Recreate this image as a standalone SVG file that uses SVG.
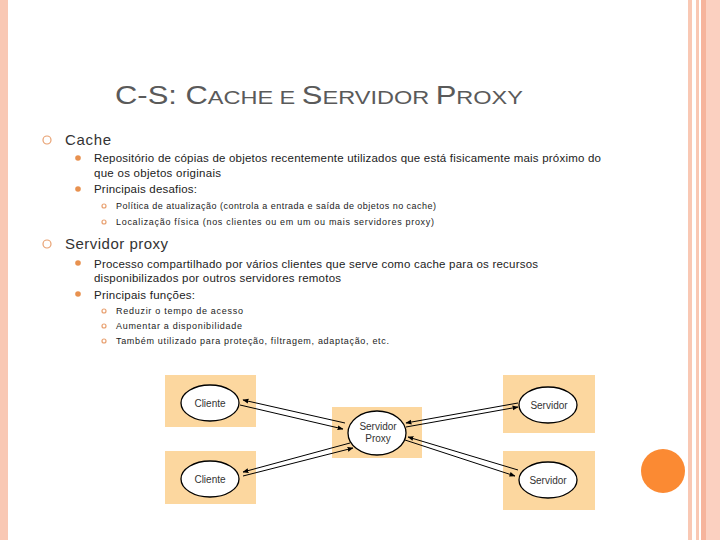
<svg xmlns="http://www.w3.org/2000/svg" width="720" height="540" viewBox="0 0 720 540">
<defs>
<marker id="ah" viewBox="0 0 10 10" refX="9" refY="5" markerWidth="6" markerHeight="6" orient="auto"><path d="M0,1 L10,5 L0,9 z" fill="#000"/></marker>
<style>
text{font-family:"Liberation Sans",Arial,sans-serif;fill:#222}
.t{fill:#5a5a5a}
.l1{font-size:15px;fill:#333}
.l2{font-size:11.5px}
.l3{font-size:9px}
.box{fill:#fcd79f}
.el{fill:#fff;stroke:#000;stroke-width:1.3}
.nl{font-size:10px;text-anchor:middle;fill:#333}
.c{stroke:#000;stroke-width:1;fill:none;marker-end:url(#ah)}
.ob{fill:none;stroke:#e8a070;stroke-width:1.2}
.db{fill:#e8914f}
</style>
</defs>
<rect width="720" height="540" fill="#fff"/>
<rect x="0" y="0" width="8" height="540" fill="#f9c8b4"/>
<rect x="688" y="0" width="4" height="540" fill="#f9c8b4"/>
<rect x="696" y="0" width="3" height="540" fill="#f9c8b4"/>
<rect x="701" y="0" width="5" height="540" fill="#f6b49c"/>
<rect x="706" y="0" width="14" height="540" fill="#fbd0c0"/>
<circle cx="663" cy="471" r="22" fill="#fb8a33"/>
<text x="115" y="104" class="t" textLength="408" lengthAdjust="spacingAndGlyphs"><tspan font-size="25">C-S: C</tspan><tspan font-size="19">ACHE E </tspan><tspan font-size="25">S</tspan><tspan font-size="19">ERVIDOR </tspan><tspan font-size="25">P</tspan><tspan font-size="19">ROXY</tspan></text>
<circle cx="47" cy="140" r="4" class="ob"/>
<text x="65" y="145" class="l1" textLength="46">Cache</text>
<circle cx="78" cy="158" r="2.8" class="db"/>
<text x="94" y="162" class="l2" textLength="507">Repositório de cópias de objetos recentemente utilizados que está fisicamente mais próximo do</text>
<text x="94" y="177" class="l2" textLength="127">que os objetos originais</text>
<circle cx="78" cy="189" r="2.8" class="db"/>
<text x="94" y="193" class="l2" textLength="103">Principais desafios:</text>
<circle cx="104" cy="206" r="2" class="ob"/>
<text x="116" y="209" class="l3" textLength="320">Política de atualização (controla a entrada e saída de objetos no cache)</text>
<circle cx="104" cy="222" r="2" class="ob"/>
<text x="116" y="225" class="l3" textLength="318">Localização física (nos clientes ou em um ou mais servidores proxy)</text>
<circle cx="47" cy="244" r="4" class="ob"/>
<text x="65" y="249" class="l1" textLength="103">Servidor proxy</text>
<circle cx="78" cy="263" r="2.8" class="db"/>
<text x="94" y="268" class="l2" textLength="444">Processo compartilhado por vários clientes que serve como cache para os recursos</text>
<text x="94" y="282" class="l2" textLength="247">disponibilizados por outros servidores remotos</text>
<circle cx="78" cy="294" r="2.8" class="db"/>
<text x="94" y="299" class="l2" textLength="101">Principais funções:</text>
<circle cx="104" cy="311" r="2" class="ob"/>
<text x="116" y="314" class="l3" textLength="127">Reduzir o tempo de acesso</text>
<circle cx="104" cy="326" r="2" class="ob"/>
<text x="116" y="329" class="l3" textLength="126">Aumentar a disponibilidade</text>
<circle cx="104" cy="341" r="2" class="ob"/>
<text x="116" y="344" class="l3" textLength="273">Também utilizado para proteção, filtragem, adaptação, etc.</text>
<g id="cliente1"><rect x="165" y="375" width="91" height="52" class="box"/><ellipse cx="210" cy="403" rx="29" ry="18" class="el"/><text x="210" y="407" class="nl">Cliente</text></g>
<g id="cliente2"><rect x="165" y="451" width="91" height="53" class="box"/><ellipse cx="210" cy="479" rx="29" ry="18" class="el"/><text x="210" y="483" class="nl">Cliente</text></g>
<g id="proxy"><rect x="332" y="407" width="90" height="51" class="box"/><ellipse cx="377" cy="433" rx="29" ry="22" class="el"/><text x="378" y="430" class="nl">Servidor</text><text x="378" y="442" class="nl">Proxy</text></g>
<g id="servidor1"><rect x="503" y="375" width="92" height="58" class="box"/><ellipse cx="548" cy="405" rx="29" ry="18" class="el"/><text x="549" y="409" class="nl">Servidor</text></g>
<g id="servidor2"><rect x="503" y="451" width="92" height="59" class="box"/><ellipse cx="548" cy="480" rx="29" ry="18" class="el"/><text x="548" y="484" class="nl">Servidor</text></g>
<g id="connectors">
<line x1="345" y1="423" x2="243" y2="400" class="c"/>
<line x1="240" y1="405" x2="343" y2="429" class="c"/>
<line x1="350" y1="443" x2="243" y2="472" class="c"/>
<line x1="243" y1="476" x2="353" y2="448" class="c"/>
<line x1="518" y1="403" x2="406" y2="423" class="c"/>
<line x1="406" y1="427" x2="518" y2="407" class="c"/>
<line x1="518" y1="470" x2="408" y2="437" class="c"/>
<line x1="405" y1="440" x2="515" y2="476" class="c"/>
</g>
</svg>
